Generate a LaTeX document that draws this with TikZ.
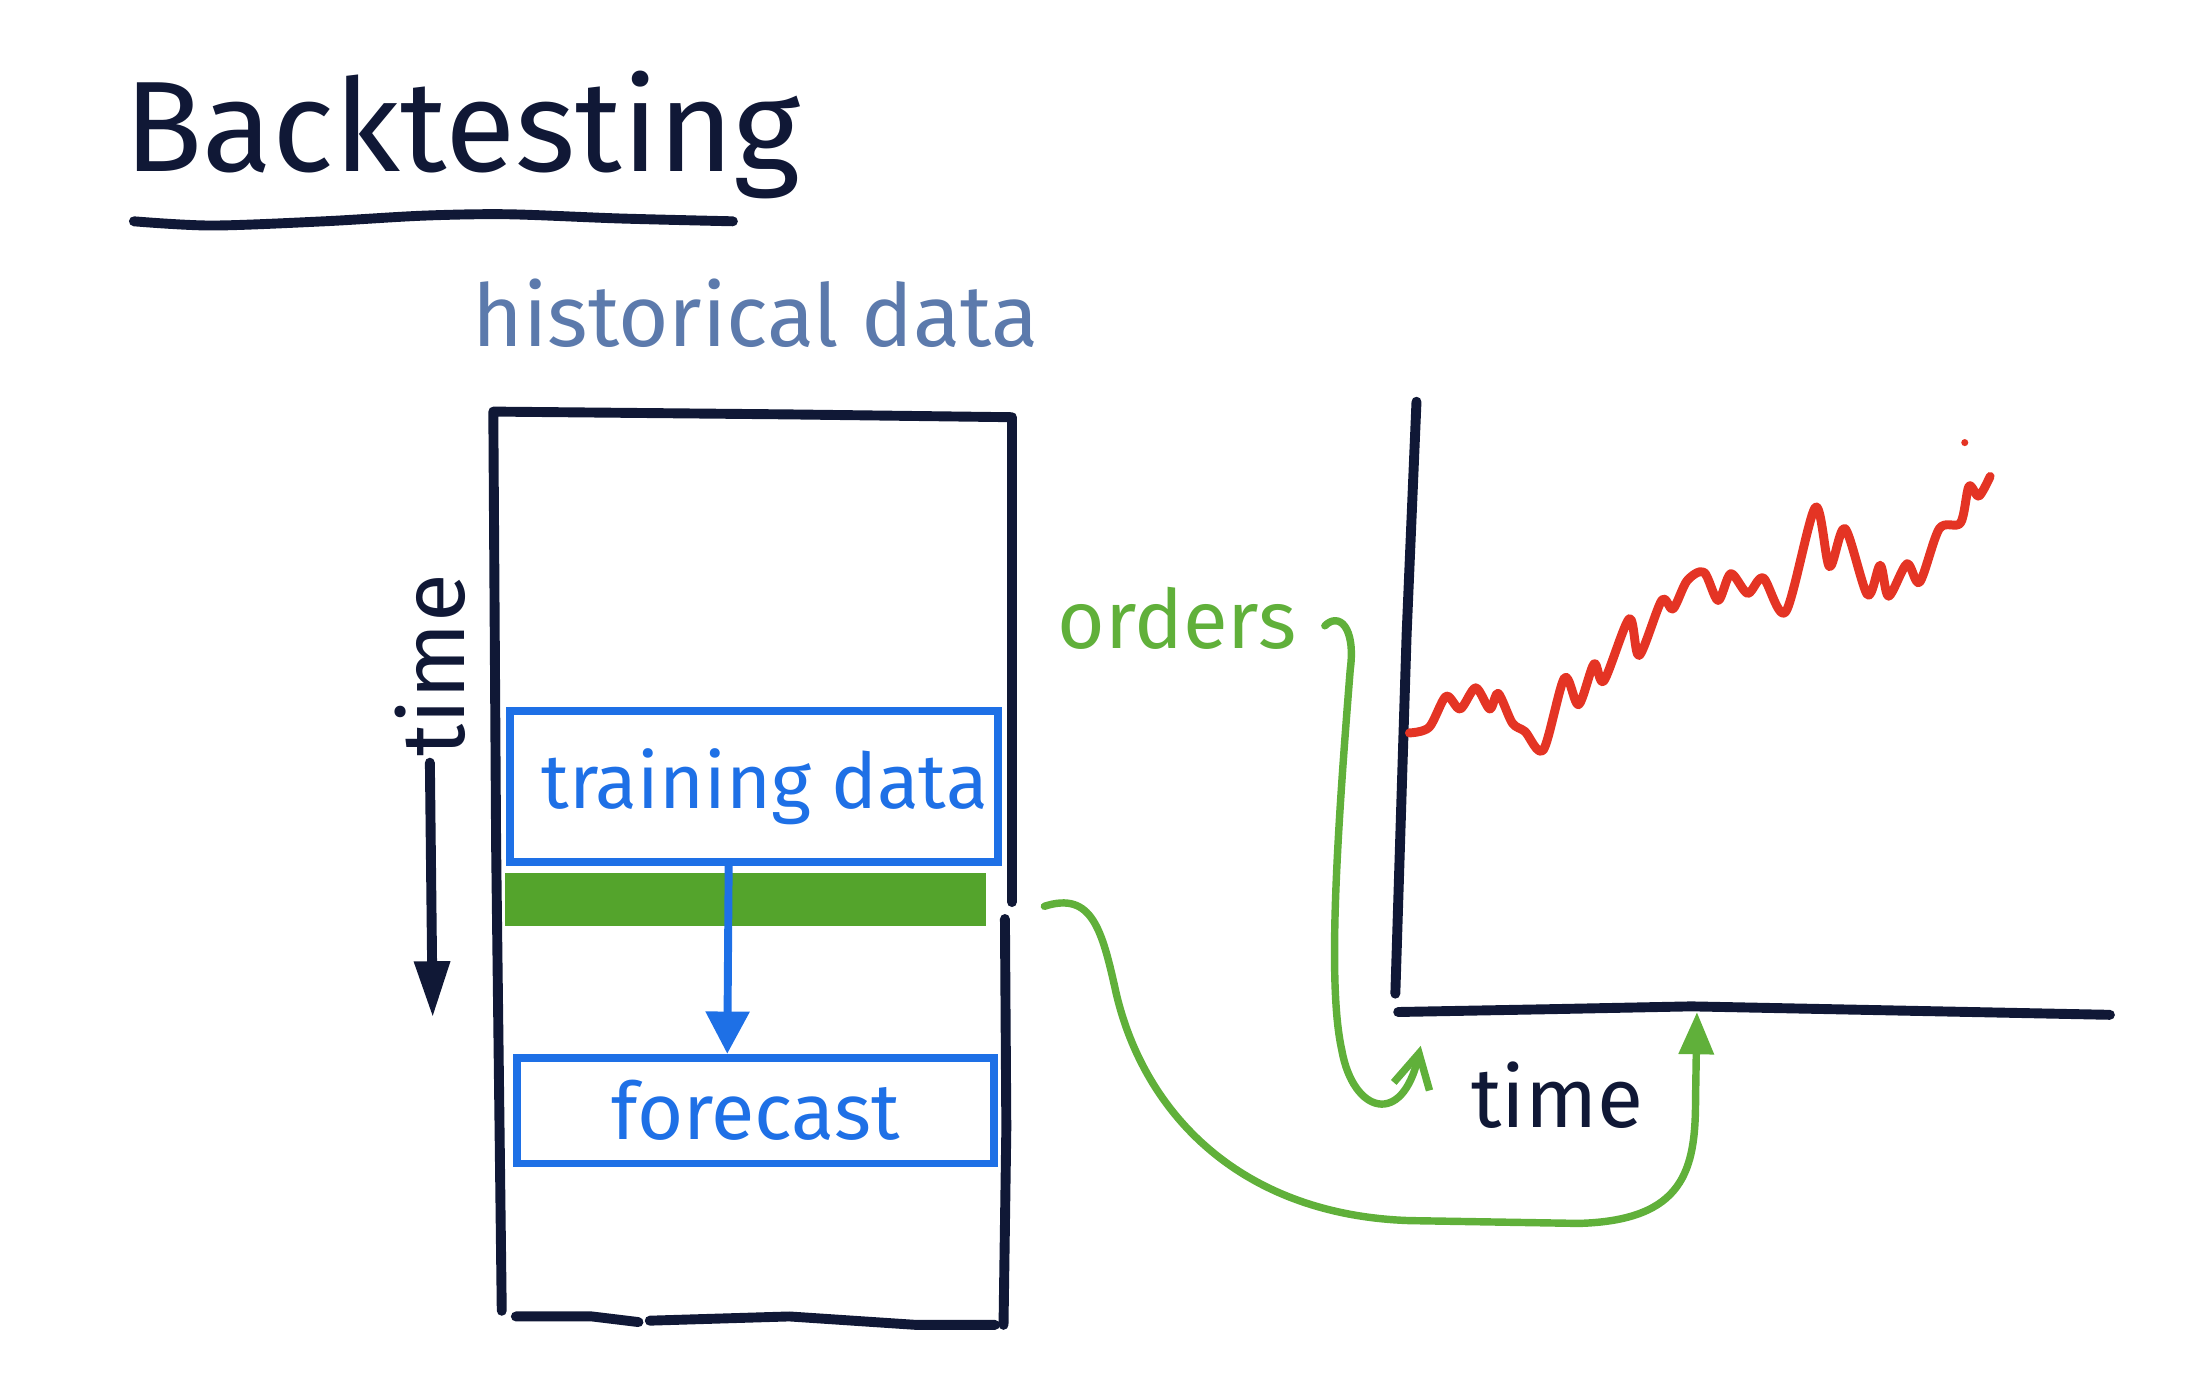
\documentclass[tikz,border=0pt]{standalone}
\usepackage{fontspec}
\setmainfont{Fira Sans}
\usetikzlibrary{arrows.meta}

\definecolor{ink}{RGB}{16,24,54}
\definecolor{slate}{RGB}{92,122,172}
\definecolor{penblue}{RGB}{30,112,230}
\definecolor{pengreen}{RGB}{96,176,58}
\definecolor{bargreen}{RGB}{84,164,44}
\definecolor{penred}{RGB}{228,52,36}

\begin{document}
\begin{tikzpicture}[x=0.1mm, y=-0.1mm,
      inkline/.style={draw=ink, line width=2pt, line cap=round, line join=round},
      bluebox/.style={draw=penblue, line width=1.6pt, text=penblue, inner sep=0pt},
      greenline/.style={draw=pengreen, line width=1.5pt, line cap=round},
      >={Triangle[length=3mm, width=3mm]}
    ]
    \useasboundingbox (0,0) rectangle (1568,982);

    % title and heading
    \node[anchor=base west, text=ink, font=\fontsize{26}{30}\selectfont] (title) at (76,122) {Backtesting};
    \draw[inkline] plot[smooth] coordinates {(95,157) (150,160) (230,157) (300,153) (360,152) (440,155) (520,157)};
    \node[anchor=base, text=slate, font=\fontsize{17.5}{21}\selectfont] (histlbl) at (536,246) {historical data};

    % historical data column
    \draw[inkline] (356,930) -- (352,600) -- (350,292) -- (560,294) -- (718,296) -- (718,640);
    \draw[inkline] (713,652) -- (714,800) -- (712,940);
    \draw[inkline] (366,934) -- (420,934) -- (453,938);
    \draw[inkline] (461,937) -- (560,934) -- (650,940) -- (706,940);

    \node[bluebox, minimum width=34.6mm, minimum height=10.7mm, font=\fontsize{15.5}{19}\selectfont] (trainbox) at (535,558) {\hspace*{1.5mm}training data};
    \node[fill=bargreen, draw=bargreen, line width=1pt, minimum width=33.8mm, minimum height=3.4mm] (greenbar) at (529,638) {};
    \node[bluebox, minimum width=33.8mm, minimum height=7.5mm, font=\fontsize{16}{20}\selectfont] (fcbox) at (536,788) {forecast};
    \draw[->, draw=penblue, fill=penblue, line width=1.6pt] ([xshift=-1.8mm]trainbox.south) -- ([xshift=-2mm]fcbox.north);

    % time direction
    \node[rotate=90, text=ink, font=\fontsize{18}{22}\selectfont] (timelbl) at (305,472) {time};
    \coordinate (tend) at (307,722);
    \draw[inkline, -{Triangle[length=4mm, width=2.4mm]}] (timelbl.west) ++(0,-8) -- (tend);

    % equity curve
    \coordinate (origin) at (992,718);
    \draw[inkline] (1005,285) -- (998,450) -- (990,705);
    \draw[inkline] (origin) -- (1100,716) -- (1200,714) -- (1497,720);
    \node[anchor=base, text=ink, font=\fontsize{17}{21}\selectfont] (axlbl) at (1105,800) {time};
    \draw[draw=penred, line width=1.8pt, line join=round, line cap=round] plot[smooth, tension=0.5] coordinates {
      (1000,520) (1014,516) (1026,494) (1036,503) (1047,488) (1057,503) (1063,492) (1073,513)
      (1082,519) (1095,532) (1110,481) (1120,500) (1131,471) (1138,483) (1156,439) (1163,465)
      (1179,426) (1187,432) (1197,412) (1209,406) (1219,426) (1228,407) (1240,421) (1251,410)
      (1267,434) (1288,360) (1298,402) (1309,375) (1325,422) (1334,401) (1340,423) (1353,400)
      (1362,413) (1376,375) (1391,371) (1397,345) (1404,352) (1412,338)};
    \fill[penred] (1394,314) circle (2.5);

    % orders
    \node[anchor=base, text=pengreen, font=\fontsize{16.5}{20}\selectfont] (orders) at (835,460) {orders};
    \coordinate (ordstart) at (940,444);
    \coordinate (ordtip) at (1008,742);
    \draw[greenline, -{Straight Barb[length=2.4mm, width=2.6mm]}] (ordstart)
      .. controls (950,434) and (962,445) .. (958,475)
      .. controls (948,600) and (942,700) .. (952,745)
      .. controls (960,790) and (995,800) .. (ordtip);
    \coordinate (barout) at (741,643);
    \coordinate (axtip) at (1204,718);
    \draw[greenline, -{Triangle[length=3mm, width=2.4mm, fill=pengreen]}] (barout)
      .. controls (775,632) and (782,660) .. (792,705)
      .. controls (812,790) and (880,862) .. (1000,866) -- (1120,868)
      .. controls (1195,866) and (1203,830) .. (1203,780) -- (axtip);
  \end{tikzpicture}
\end{document}
